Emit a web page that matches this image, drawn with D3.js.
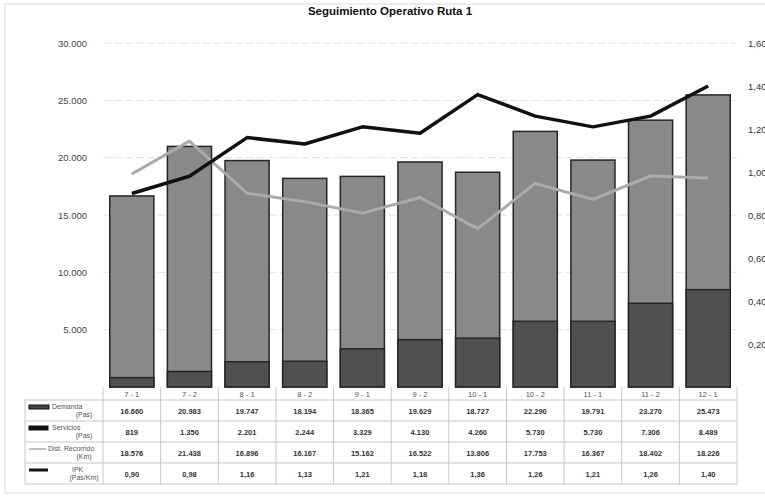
<!DOCTYPE html>
<html>
<head>
<meta charset="utf-8">
<script src="https://cdn.jsdelivr.net/npm/d3@7"></script>
<style>
  body { margin: 0; background: #fff; }
  svg { font-family: "Liberation Sans", Arial, sans-serif; }
</style>
</head>
<body>
<div id="chart"></div>
<script>
// data
const categories = ["7 - 1", "7 - 2", "8 - 1", "8 - 2", "9 - 1", "9 - 2", "10 - 1", "10 - 2", "11 - 1", "11 - 2", "12 - 1"];
const demanda = [16660, 20983, 19747, 18194, 18365, 19629, 18727, 22290, 19791, 23270, 25473];
const servicios = [819, 1350, 2201, 2244, 3329, 4130, 4260, 5730, 5730, 7306, 8489];
const distancia = [18576, 21438, 16896, 16167, 15162, 16522, 13806, 17753, 16367, 18402, 18226];
const ipk = [0.90, 0.98, 1.16, 1.13, 1.21, 1.18, 1.36, 1.26, 1.21, 1.26, 1.40];
const leftTicks = [5000, 10000, 15000, 20000, 25000, 30000];
const rightTicks = [0.2, 0.4, 0.6, 0.8, 1.0, 1.2, 1.4, 1.6];
const rowLabels = [["Demanda", "(Pas)"], ["Servicios", "(Pas)"], ["Dist. Recorrido", "(Km)"], ["IPK", "(Pas/Km)"]];

const W = 765, H = 497;
const plot = {left: 103, right: 737, top: 43, bottom: 387};

const es = d3.formatLocale({decimal: ",", thousands: ".", grouping: [3], currency: ["$", ""]});
const fmtInt = es.format(",d");
const fmtDec = es.format(",.2f");

const svg = d3.select("#chart").append("svg")
    .attr("width", W)
    .attr("height", H);

// outer frame
svg.append("rect")
    .attr("x", 5).attr("y", 4)
    .attr("width", W + 10).attr("height", H - 8)
    .attr("fill", "none")
    .attr("stroke", "#dadada");

const x = d3.scaleBand().domain(categories).range([plot.left, plot.right]).paddingInner(0.235).paddingOuter(0.117);
const yL = d3.scaleLinear().domain([0, 30000]).range([plot.bottom, plot.top]);
const yR = d3.scaleLinear().domain([0, 1.6]).range([plot.bottom, plot.top]);
const step = x.step();

// gridlines
svg.append("g")
    .selectAll("line")
    .data(leftTicks)
    .join("line")
    .attr("x1", plot.left).attr("x2", plot.right)
    .attr("y1", d => yL(d)).attr("y2", d => yL(d))
    .attr("stroke", "#e2e2e2")
    .attr("stroke-dasharray", "8,3");

// left axis
const axL = svg.append("g")
    .attr("transform", "translate(" + (plot.left - 13) + ",0)")
    .call(d3.axisLeft(yL).tickValues(leftTicks).tickFormat(fmtInt).tickSize(0));
axL.select(".domain").remove();
axL.selectAll("text").attr("font-size", 9.5).attr("fill", "#444");

// right axis
const axR = svg.append("g")
    .attr("transform", "translate(" + (plot.right + 8) + ",0)")
    .call(d3.axisRight(yR).tickValues(rightTicks).tickFormat(fmtDec).tickSize(0));
axR.select(".domain").remove();
axR.selectAll("text").attr("font-size", 9.5).attr("fill", "#333");

// title
svg.append("text")
    .attr("x", 390).attr("y", 15)
    .attr("text-anchor", "middle")
    .attr("font-size", 11.5)
    .attr("font-weight", "bold")
    .attr("fill", "#111")
    .text("Seguimiento Operativo Ruta 1");

// bars: demanda (full) and servicios (overlaid from zero)
svg.append("g")
    .selectAll("rect")
    .data(categories)
    .join("rect")
    .attr("x", (d, i) => x(d))
    .attr("width", x.bandwidth())
    .attr("y", (d, i) => yL(demanda[i]))
    .attr("height", (d, i) => yL(0) - yL(demanda[i]))
    .attr("fill", "#898989")
    .attr("stroke", "#262626")
    .attr("stroke-width", 1.5);

svg.append("g")
    .selectAll("rect")
    .data(categories)
    .join("rect")
    .attr("x", (d, i) => x(d))
    .attr("width", x.bandwidth())
    .attr("y", (d, i) => yL(servicios[i]))
    .attr("height", (d, i) => yL(0) - yL(servicios[i]))
    .attr("fill", "#505050")
    .attr("stroke", "#262626")
    .attr("stroke-width", 1.5);

// lines
const cx = d => x(d) + x.bandwidth() / 2;

svg.append("path")
    .datum(categories)
    .attr("fill", "none")
    .attr("stroke", "#ababab")
    .attr("stroke-width", 3)
    .attr("stroke-linejoin", "round")
    .attr("d", d3.line().x(d => cx(d)).y((d, i) => yL(distancia[i])));

svg.append("path")
    .datum(categories)
    .attr("fill", "none")
    .attr("stroke", "#111")
    .attr("stroke-width", 3.5)
    .attr("stroke-linejoin", "round")
    .attr("d", d3.line().x(d => cx(d)).y((d, i) => yR(ipk[i])));

// data table
const tbl = {left: 25, header: 400, rowH: 21, rows: 4};
const tableBottom = tbl.header + tbl.rowH * tbl.rows;
const tg = svg.append("g");
const lineColor = "#c8c8c8";

// horizontal lines
tg.selectAll("line.h")
    .data(d3.range(tbl.rows + 1))
    .join("line")
    .attr("class", "h")
    .attr("x1", tbl.left).attr("x2", plot.right)
    .attr("y1", i => tbl.header + i * tbl.rowH).attr("y2", i => tbl.header + i * tbl.rowH)
    .attr("stroke", lineColor);

// vertical lines at band boundaries
const bounds = d3.range(categories.length + 1).map(i => plot.left + i * step);
tg.selectAll("line.v")
    .data(bounds)
    .join("line")
    .attr("class", "v")
    .attr("x1", d => d).attr("x2", d => d)
    .attr("y1", plot.bottom).attr("y2", tableBottom)
    .attr("stroke", lineColor);
tg.append("line")
    .attr("x1", tbl.left).attr("x2", tbl.left)
    .attr("y1", tbl.header).attr("y2", tableBottom)
    .attr("stroke", lineColor);

// category header
tg.selectAll("text.cat")
    .data(categories)
    .join("text")
    .attr("class", "cat")
    .attr("x", d => cx(d))
    .attr("y", plot.bottom + 10)
    .attr("text-anchor", "middle")
    .attr("font-size", 7.5)
    .attr("fill", "#555")
    .text(d => d);

// row values
const rows = [
    demanda.map(fmtInt),
    servicios.map(fmtInt),
    distancia.map(fmtInt),
    ipk.map(fmtDec)
];
rows.forEach((vals, r) => {
    tg.append("g")
        .selectAll("text")
        .data(categories)
        .join("text")
        .attr("x", d => cx(d))
        .attr("y", tbl.header + r * tbl.rowH + 13.5)
        .attr("text-anchor", "middle")
        .attr("font-size", 7.5)
        .attr("font-weight", "bold")
        .attr("fill", "#333")
        .text((d, i) => vals[i]);
});

// row labels with legend keys
rowLabels.forEach((lab, r) => {
    const y0 = tbl.header + r * tbl.rowH;
    const g = tg.append("g");
    if (r < 2) {
        g.append("rect")
            .attr("x", 29).attr("y", y0 + 5)
            .attr("width", r === 0 ? 20 : 19).attr("height", 4)
            .attr("fill", r === 0 ? "#444" : "#111")
            .attr("stroke", "#111");
    } else {
        g.append("line")
            .attr("x1", 29).attr("x2", r === 2 ? 46 : 48)
            .attr("y1", y0 + 7).attr("y2", y0 + 7)
            .attr("stroke", r === 2 ? "#aaa" : "#111")
            .attr("stroke-width", r === 2 ? 1.5 : 3);
    }
    g.append("text")
        .attr("x", r === 3 ? 72 : (r === 2 ? 48 : 52))
        .attr("y", y0 + 9)
        .attr("font-size", 7)
        .attr("fill", "#555")
        .text(lab[0]);
    g.append("text")
        .attr("x", 84)
        .attr("y", y0 + 17)
        .attr("text-anchor", "middle")
        .attr("font-size", 7)
        .attr("fill", "#555")
        .text(lab[1]);
});
</script>
</body>
</html>
